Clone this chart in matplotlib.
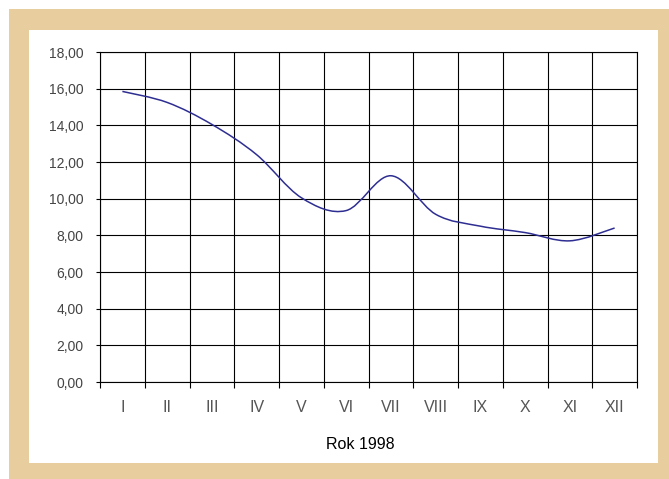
import numpy as np
import matplotlib
matplotlib.use("Agg")
import matplotlib.pyplot as plt
from matplotlib.patches import Rectangle, PathPatch
from matplotlib.path import Path
from matplotlib.ticker import FixedLocator, FuncFormatter

# data ------------------------------------------------------------------------
months = ["I", "II", "III", "IV", "V", "VI", "VII", "VIII", "IX", "X", "XI", "XII"]
values = [15.85, 15.25, 14.05, 12.4, 10.05, 9.35, 11.25, 9.15, 8.5, 8.15, 7.7, 8.4]
yticks = [0, 2, 4, 6, 8, 10, 12, 14, 16, 18]

# figure ----------------------------------------------------------------------
W, H = 669, 479
fig = plt.figure(figsize=(W / 100, H / 100), dpi=100)
plt.rcParams['font.family'] = ['Liberation Sans', 'DejaVu Sans']

tan = '#E8CD9E'
fig.patches.append(Rectangle((9 / W, 0), 1, (H - 9) / H, transform=fig.transFigure,
                             facecolor=tan, edgecolor='none', zorder=-3))
fig.patches.append(Rectangle((29 / W, 16 / H), (658 - 29) / W, (463 - 30) / H,
                             transform=fig.transFigure, facecolor='white',
                             edgecolor='none', zorder=-2))

ax = fig.add_axes([100 / W, 97 / H, 537 / W, 330 / H])
ax.set_facecolor('white')

x = np.arange(len(values))
y = np.array(values)

# smoothed line as bezier segments through the points (excel-like smoothing)
t = 1 / 6
verts = [(x[0], y[0])]
codes = [Path.MOVETO]
n = len(x)
for i in range(n - 1):
    p0 = np.array([x[max(i - 1, 0)], y[max(i - 1, 0)]])
    p1 = np.array([x[i], y[i]])
    p2 = np.array([x[i + 1], y[i + 1]])
    p3 = np.array([x[min(i + 2, n - 1)], y[min(i + 2, n - 1)]])
    c1 = p1 + (p2 - p0) * t
    c2 = p2 - (p3 - p1) * t
    verts += [tuple(c1), tuple(c2), tuple(p2)]
    codes += [Path.CURVE4] * 3
ax.add_patch(PathPatch(Path(verts, codes), facecolor='none', edgecolor='#2E2E92',
                       linewidth=1.1, zorder=3))

ax.set_xlim(-0.5, 11.5)
ax.set_ylim(0, 18)

ax.xaxis.set_major_locator(FixedLocator(np.arange(-0.5, 12, 1)))
ax.xaxis.set_minor_locator(FixedLocator(x))
ax.set_xticklabels([], minor=False)
ax.set_xticklabels(months, minor=True,
                   family=['Liberation Sans Narrow', 'Liberation Sans', 'DejaVu Sans'])
ax.tick_params(axis='x', which='major', length=4, width=0.8, color='black', direction='out')
ax.tick_params(axis='x', which='minor', length=0, pad=13, labelsize=11.5, labelcolor='#555555')

ax.set_yticks(yticks)
ax.yaxis.set_major_formatter(FuncFormatter(lambda v, p: f"{v:.2f}".replace('.', ',')))
ax.tick_params(axis='y', length=3, width=0.8, color='black', pad=9, labelsize=10,
               labelcolor='#444444')

ax.grid(True, which='major', color='black', linewidth=0.8)
for s in ax.spines.values():
    s.set_linewidth(0.8)
    s.set_color('black')

ax.set_xlabel('Rok 1998', fontsize=11.5, color='black')
ax.xaxis.set_label_coords((360 - 100) / 537, -(437 - 382) / 330)

fig.savefig('out.png', dpi=100)
